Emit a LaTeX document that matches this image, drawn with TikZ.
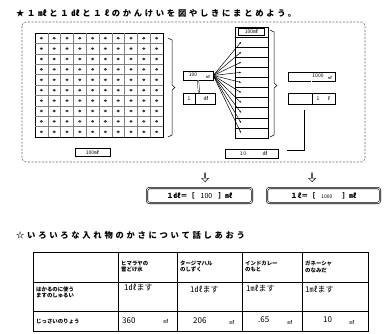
\documentclass[tikz,border=0pt]{standalone}
\usepackage{fontspec}
\setmainfont{Noto Sans CJK JP}
\newfontfamily\jpsp[LetterSpace=33]{Noto Sans CJK JP}
\usetikzlibrary{shapes.arrows,arrows.meta}
\tikzset{
  unitbox/.style={draw, line width=0.6pt, inner sep=0pt, font=\fontsize{5}{5}\selectfont},
  eqbox/.style={draw, double, double distance=0.8pt, line width=0.6pt, rounded corners=2.5pt, inner sep=0pt, minimum height=15pt, font=\bfseries\fontsize{7}{7}\selectfont},
  downarr/.style={single arrow, draw, line width=0.4pt, shape border rotate=270, minimum height=9pt, minimum width=7pt, single arrow head extend=1.5pt, inner sep=0pt},
  heading/.style={anchor=west, inner sep=0pt, font=\jpsp\bfseries\fontsize{8.3}{9}\selectfont},
  cell/.style={anchor=west, inner sep=0pt, align=left, font=\bfseries\fontsize{5.4}{6.8}\selectfont},
  hand/.style={inner sep=0pt, font=\fontsize{8}{8}\selectfont},
  fan/.style={line width=0.5pt, -{Stealth[length=2pt,width=1.6pt]}},
  eqline/.style={double, double distance=1pt, line width=0.4pt},
}
\begin{document}
\begin{tikzpicture}[x=1pt,y=-1pt]
\useasboundingbox[fill=white] (0,0) rectangle (387,333);

% headings
\node[heading] (t1) at (16,13) {★１㎖と１㎗と１ℓのかんけいを図やしきにまとめよう。};
\node[heading] (t2) at (16,235) {☆いろいろな入れ物のかさについて話しあおう};

% dashed frame
\draw[black!60, line width=0.6pt, dash pattern=on 2pt off 1.5pt, rounded corners=4pt] (22,22) rectangle (365,162);

% 10x10 grid
\draw[line width=0.7pt] (35,33) rectangle (163,137);
\foreach \i in {1,...,9} {
  \draw[gray, line width=0.4pt] ({35+12.8*\i},33) -- ({35+12.8*\i},137);
  \draw[gray, line width=0.4pt] (35,{33+10.4*\i}) -- (163,{33+10.4*\i});
}
\foreach \i in {0,...,9} \foreach \j in {0,...,9} {
  \fill[black!80] ({35+12.8*\i+6.4},{33+10.4*\j+5.2}) ellipse (1.7pt and 1.3pt);
}
\node[unitbox, minimum width=35pt, minimum height=8pt] (g100) at (92.5,152) {100㎖};

% bracket right of grid
\draw[line width=0.5pt] (168,38) -- (172,40) -- (172,85) -- (175,87.5) -- (172,90) -- (172,135) -- (168,137);

% 100 ml and 1 dl boxes
\node[unitbox, minimum width=30pt, minimum height=9pt] (b100) at (198,75.5) {};
\node[inner sep=0pt, font=\fontsize{5}{5}\selectfont] (b100t) at (193,74.5) {100};
\node[inner sep=0pt, font=\fontsize{4}{4}\selectfont] (b100u) at (208,77) {㎖};
\node[unitbox, minimum width=32pt, minimum height=11pt] (b1dl) at (199,98.5) {};
\draw[line width=0.5pt] (195,93) -- (195,104);
\node[inner sep=0pt, font=\fontsize{5}{5}\selectfont] (b1dlt) at (189,98.5) {1};
\node[inner sep=0pt, font=\fontsize{5}{5}\selectfont] (b1dlu) at (206,98.5) {㎗};
\draw[eqline] (b100.south) -- (b1dl.north);

% column of 10 cells
\draw[line width=0.7pt] (235,27) rectangle (268,138);
\node[unitbox, minimum width=26pt, minimum height=7pt] (ctop) at (251.5,31.5) {100㎖};
\foreach \k in {0,...,9} {
  \draw[line width=0.5pt] (235,{37+10.1*\k}) -- (268,{37+10.1*\k});
  \coordinate (c\k) at (241,{37+10.1*\k+5});
  \draw[fan] (b100.east) -- (c\k);
}

% bracket right of column
\draw[line width=0.5pt] (270,30) -- (274,32) -- (274,83) -- (277,85.5) -- (274,88) -- (274,135) -- (270,137);

% 1000 ml and 1 l boxes
\node[unitbox, minimum width=47pt, minimum height=9pt] (b1000) at (311.5,76.5) {};
\node[inner sep=0pt, font=\fontsize{5}{5}\selectfont] (b1000t) at (318,75.5) {1000};
\node[inner sep=0pt, font=\fontsize{4}{4}\selectfont] (b1000u) at (330,78) {㎖};
\node[unitbox, minimum width=47pt, minimum height=11pt] (b1l) at (311.5,98.5) {};
\draw[line width=0.5pt] (312,93) -- (312,104);
\node[inner sep=0pt, font=\fontsize{5}{5}\selectfont] (b1lt) at (318,98.5) {1};
\node[inner sep=0pt, font=\fontsize{5}{5}\selectfont] (b1lu) at (329,98.5) {ℓ};
\draw[eqline] (b1000.south) -- (b1l.north);

% 10 dl box
\node[unitbox, minimum width=53pt, minimum height=9pt] (b10dl) at (251.5,153.5) {};
\node[inner sep=0pt, font=\fontsize{5}{5}\selectfont] (b10dlt) at (243,153.5) {1\,0};
\node[inner sep=0pt, font=\fontsize{5}{5}\selectfont] (b10dlu) at (265,153.5) {㎗};

% L-shaped equals line
\coordinate (l1) at (305,110);
\coordinate (l2) at (305,151);
\coordinate (l3) at (287,151);
\draw[eqline] (l1) -- (l2) -- (l3);

% down arrows
\node[downarr] (a1) at (205,177) {};
\node[downarr] (a2) at (312,177) {};

% equation boxes
\node[eqbox, minimum width=105pt] (eq1) at (199.5,195.5) {１㎗＝［\hspace{6pt}{\mdseries 100}\hspace{6pt}］㎖};
\node[eqbox, minimum width=113pt] (eq2) at (323.5,195.5) {１ℓ＝［\hspace{6pt}{\mdseries\fontsize{5}{5}\selectfont 1000}\hspace{10pt}］㎖};

% table
\draw[line width=0.8pt] (33,252) rectangle (368,331);
\draw[line width=0.6pt] (33,282) -- (368,282);
\draw[line width=0.6pt] (33,311) -- (368,311);
\foreach \x in {118,177,242,302} \draw[line width=0.6pt] (\x,252) -- (\x,331);

\node[cell] (h1) at (121,266.5) {ヒマラヤの\\雪どけ水};
\node[cell] (h2) at (180,266.5) {タージマハル\\のしずく};
\node[cell] (h3) at (245,266.5) {インドカレー\\のもと};
\node[cell] (h4) at (305,266.5) {ガネーシャ\\のなみだ};
\node[cell] (r1) at (36,292.5) {はかるのに使う\\ますのしゅるい};
\node[cell] (r2) at (36,321) {じっさいのりょう};

\node[hand, anchor=west] (v11) at (124,287) {1㎗ます};
\node[hand, anchor=west] (v12) at (190,289) {1㎗ます};
\node[hand, anchor=west] (v13) at (246,288) {1㎖ます};
\node[hand, anchor=west] (v14) at (305,289) {1㎖ます};

\node[hand, anchor=west] (v21) at (122,321) {360};
\node[hand, font=\fontsize{5}{5}\selectfont] (u21) at (166,321) {㎖};
\node[hand, anchor=west] (v22) at (193,321) {206};
\node[hand, font=\fontsize{5}{5}\selectfont] (u22) at (232,322) {㎖};
\node[hand, anchor=west] (v23) at (258,320) {.65};
\node[hand, font=\fontsize{5}{5}\selectfont] (u23) at (290,322) {㎖};
\node[hand, anchor=west] (v24) at (323,320) {10};
\node[hand, font=\fontsize{5}{5}\selectfont] (u24) at (352,322) {㎖};
\end{tikzpicture}
\end{document}
